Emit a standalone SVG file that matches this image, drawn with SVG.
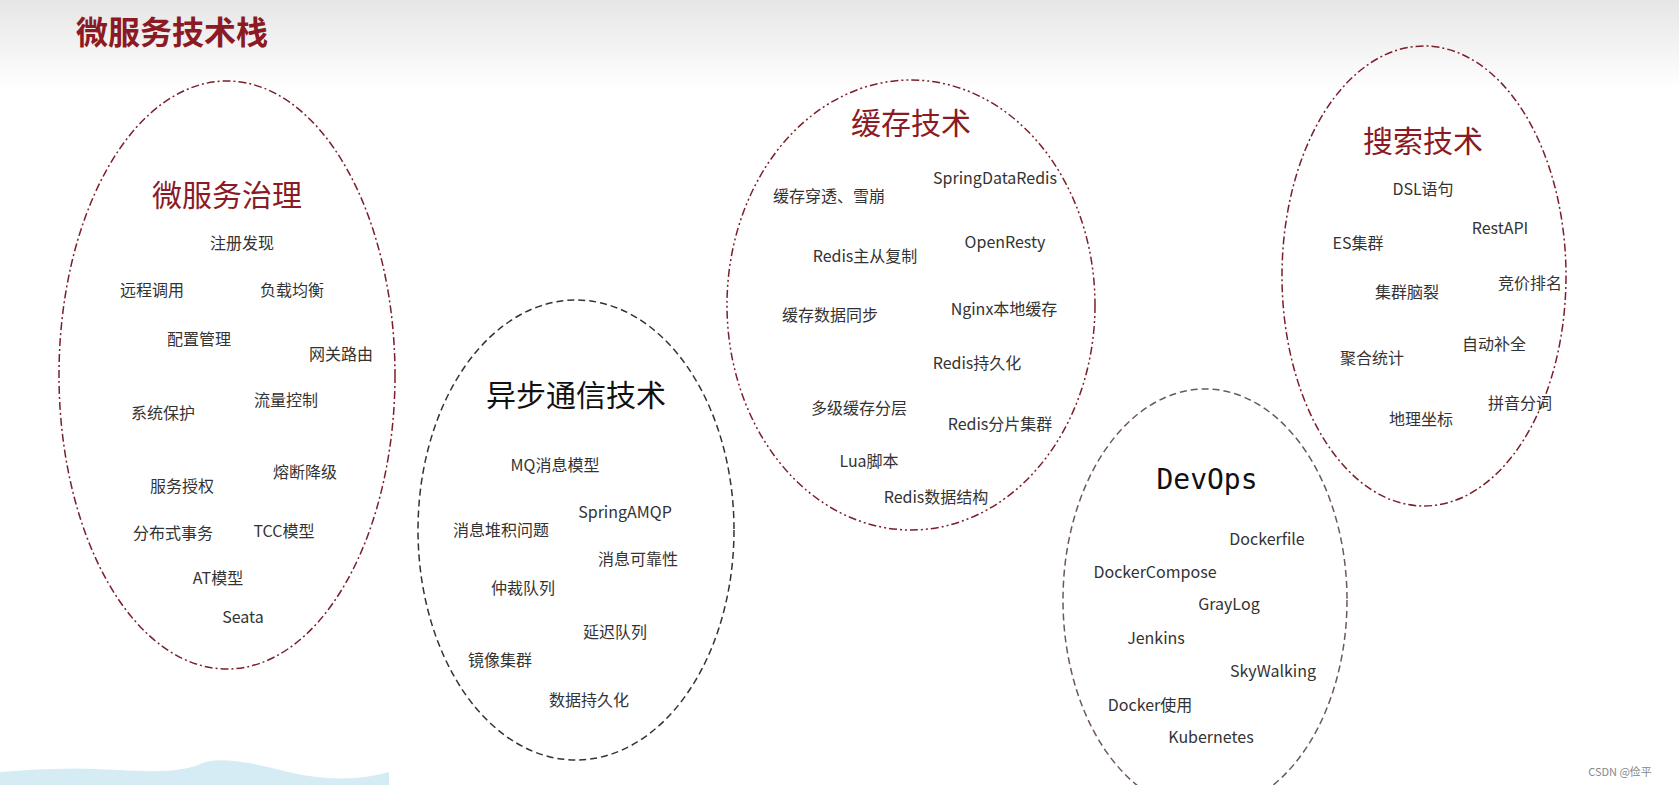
<svg xmlns="http://www.w3.org/2000/svg" width="1679" height="785" viewBox="0 0 1679 785">
<defs>
<linearGradient id="hd" x1="0" y1="0" x2="0" y2="1"><stop offset="0" stop-color="#e6e6e6"/><stop offset="1" stop-color="#ffffff"/></linearGradient>
<style>
text{font-family:"Noto Sans CJK SC","Noto Sans",sans-serif;text-anchor:middle;dominant-baseline:central}
.t{font-size:16px;fill:#333}
.h{font-size:30px;fill:#8b1a24}
.hb{font-size:30px;fill:#111}
.e{fill:none;stroke-width:1.5}
</style>
</defs>
<rect width="1679" height="785" fill="#fff"/>
<rect width="1679" height="90" fill="url(#hd)"/>
<text x="172" y="30" style="font-size:32px;font-weight:bold;fill:#8b1a24">微服务技术栈</text>
<path d="M0 772 Q60 766 120 770 T200 764 T280 770 T389 772 L389 785 L0 785Z" fill="#d6ecf5"/>
<g id="connectors"></g>
<g id="governance">
<ellipse class="e" cx="227" cy="375" rx="168" ry="294" stroke="#7a1f2b" stroke-dasharray="8 3 2 3"/>
<text class="h" x="227" y="193">微服务治理</text>
<text class="t" x="242" y="242">注册发现</text><text class="t" x="152" y="289">远程调用</text><text class="t" x="292" y="289">负载均衡</text>
<text class="t" x="199" y="338">配置管理</text><text class="t" x="341" y="353">网关路由</text><text class="t" x="163" y="412">系统保护</text>
<text class="t" x="286" y="399">流量控制</text><text class="t" x="182" y="485">服务授权</text><text class="t" x="305" y="471">熔断降级</text>
<text class="t" x="173" y="532">分布式事务</text><text class="t" x="284" y="530">TCC模型</text><text class="t" x="218" y="577">AT模型</text><text class="t" x="243" y="616">Seata</text>
</g>
<g id="async">
<ellipse class="e" cx="576" cy="530" rx="158" ry="230" stroke="#333" stroke-dasharray="7 4"/>
<text class="hb" x="576" y="393">异步通信技术</text>
<text class="t" x="555" y="464">MQ消息模型</text><text class="t" x="625" y="511">SpringAMQP</text><text class="t" x="501" y="529">消息堆积问题</text>
<text class="t" x="638" y="558">消息可靠性</text><text class="t" x="523" y="587">仲裁队列</text><text class="t" x="615" y="631">延迟队列</text>
<text class="t" x="500" y="659">镜像集群</text><text class="t" x="589" y="699">数据持久化</text>
</g>
<g id="cache">
<ellipse class="e" cx="911" cy="305" rx="184" ry="225" stroke="#7a1f2b" stroke-width="1" stroke-dasharray="8 3 2 3 2 3"/>
<text class="h" x="911" y="121">缓存技术</text>
<text class="t" x="995" y="177">SpringDataRedis</text><text class="t" x="829" y="195">缓存穿透、雪崩</text><text class="t" x="1005" y="241">OpenResty</text>
<text class="t" x="865" y="255">Redis主从复制</text><text class="t" x="830" y="314">缓存数据同步</text><text class="t" x="1004" y="308">Nginx本地缓存</text>
<text class="t" x="977" y="362">Redis持久化</text><text class="t" x="859" y="407">多级缓存分层</text><text class="t" x="1000" y="423">Redis分片集群</text>
<text class="t" x="869" y="460">Lua脚本</text><text class="t" x="936" y="496">Redis数据结构</text>
</g>
<g id="search">
<ellipse class="e" cx="1424" cy="276" rx="142" ry="230" stroke="#7a1f2b" stroke-dasharray="8 3 2 3"/>
<text class="h" x="1423" y="139">搜索技术</text>
<text class="t" x="1423" y="188">DSL语句</text><text class="t" x="1500" y="227">RestAPI</text><text class="t" x="1358" y="242">ES集群</text>
<text class="t" x="1530" y="282">竞价排名</text><text class="t" x="1407" y="291">集群脑裂</text><text class="t" x="1494" y="343">自动补全</text>
<text class="t" x="1372" y="357">聚合统计</text><text class="t" x="1520" y="402">拼音分词</text><text class="t" x="1421" y="418">地理坐标</text>
</g>
<g id="devops">
<ellipse class="e" cx="1205" cy="600" rx="142" ry="211" stroke="#6b5a5a" stroke-width="1" stroke-dasharray="7 4"/>
<text x="1207" y="479" style="font-family:'DejaVu Sans Mono',monospace;font-size:28px;fill:#111">DevOps</text>
<text class="t" x="1267" y="538">Dockerfile</text><text class="t" x="1155" y="571">DockerCompose</text><text class="t" x="1229" y="603">GrayLog</text>
<text class="t" x="1156" y="637">Jenkins</text><text class="t" x="1273" y="670">SkyWalking</text><text class="t" x="1150" y="704">Docker使用</text>
<text class="t" x="1211" y="736">Kubernetes</text>
</g>
<text x="1620" y="771" style="font-size:11px;fill:#888">CSDN @俭平</text>
</svg>
